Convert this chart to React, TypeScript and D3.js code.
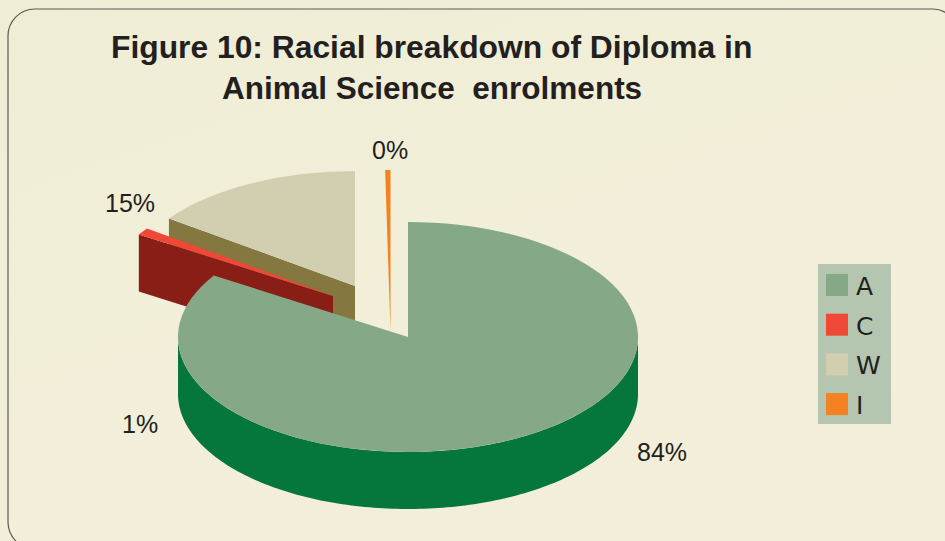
import React from 'react';
import * as d3 from 'd3';

const categories = ['A', 'C', 'W', 'I'];
const shares = [84, 1, 15, 0.37]; // I is labelled 0% but drawn as a sliver
const labels = ['84%', '1%', '15%', '0%'];
const titleLines = ['Figure 10: Racial breakdown of Diploma in', 'Animal Science  enrolments'];

const topColors = ['#85a886', '#ef4836', '#d2cfb1', '#f58220'];
const sideColors = ['#05773c', '#891e16', '#84773f', '#f58220'];

// slice centres after the explode
const centers: [number, number][] = [[408, 337], [333, 296], [355, 286], [390.5, 285]];
const labelPos: [number, number][] = [[637, 461], [122, 433], [105, 212], [372, 159]];

const width = 945;
const height = 541;
const rx = 230;
const ry = 115;
const depth = 57;

// d3.pie would squeeze the shares into one turn, the sliver has to overlap instead
const angle = d3.scaleLinear().domain([0, 100]).range([0, 2 * Math.PI]);
const ends = Array.from(d3.cumsum(shares));
const slices = shares.map((s, i) => ({ startAngle: angle(ends[i] - s), endAngle: angle(ends[i]) }));

const point = (c: [number, number], a: number, dy = 0): [number, number] => [
  c[0] + rx * Math.sin(a),
  c[1] - ry * Math.cos(a) + dy,
];

const line = d3.line();
const topArc = d3.arc<any>().innerRadius(0).outerRadius(rx);

// front wall of the big slice: lower half of the rim pushed down by depth
const rimAngles = d3.range(Math.PI / 2, (3 * Math.PI) / 2 + 0.01, 0.02);
const rimPath =
  line([
    ...rimAngles.map(a => point(centers[0], a)),
    ...rimAngles.slice().reverse().map(a => point(centers[0], a, depth)),
  ]) + 'Z';

// cut wall of an exploded slice, the edge running from the rim to the apex
const wallPath = (i: number, a: number) => {
  const c = centers[i];
  return line([point(c, a), c, [c[0], c[1] + depth], point(c, a, depth)]) + 'Z';
};

// the sliver sits just left of 12 o'clock, its wall narrows down to the apex
const sliverWidth = slices[3].endAngle - slices[3].startAngle;
const sliverAngles = d3.range(-sliverWidth, 0.0001, sliverWidth / 6);
const sliverPath =
  line([...sliverAngles.map(a => point(centers[3], a)), [centers[3][0], centers[3][1] + 47]]) + 'Z';

export default function App() {
  return (
    <svg
      width={width}
      height={height}
      style={{ position: 'fixed', left: 0, top: 0, display: 'block' }}
      fontFamily="'Liberation Sans', Arial, sans-serif"
    >
      <defs>
        <linearGradient id="bg" x1="0" y1="0" x2="0.6" y2="1">
          <stop offset="0" stopColor="#efedd4" />
          <stop offset="0.5" stopColor="#f2efd9" />
          <stop offset="1" stopColor="#f3eeda" />
        </linearGradient>
      </defs>
      <rect width={width} height={height} fill="url(#bg)" />
      <rect x={8} y={9} width={951} height={540} rx={27} ry={27} fill="none" stroke="#5a5a55" strokeWidth={1.2} />

      {titleLines.map((t, i) => (
        <text
          key={t}
          x={i === 0 ? 111 : 222}
          y={i === 0 ? 58 : 99}
          fontSize={i === 0 ? 31.8 : 31.5}
          fontWeight="bold"
          fill="#231f20"
          xmlSpace="preserve"
        >
          {t}
        </text>
      ))}

      {/* back slices first, the big slice covers them */}
      <path d={sliverPath} fill={topColors[3]} />

      <path d={wallPath(2, slices[2].startAngle)} fill={sideColors[2]} />
      <g transform={`translate(${centers[2][0]},${centers[2][1]}) scale(1,${ry / rx})`}>
        <path d={topArc(slices[2]) as string} fill={topColors[2]} />
      </g>

      <path d={wallPath(1, slices[1].startAngle)} fill={sideColors[1]} />
      <g transform={`translate(${centers[1][0]},${centers[1][1]}) scale(1,${ry / rx})`}>
        <path d={topArc(slices[1]) as string} fill={topColors[1]} />
      </g>

      <path d={rimPath} fill={sideColors[0]} />
      <g transform={`translate(${centers[0][0]},${centers[0][1]}) scale(1,${ry / rx})`}>
        <path d={topArc(slices[0]) as string} fill={topColors[0]} />
      </g>

      {labels.map((l, i) => (
        <text key={l} x={labelPos[i][0]} y={labelPos[i][1]} fontSize={25} fill="#231f20">
          {l}
        </text>
      ))}

      <rect x={818} y={264} width={73} height={160} fill="#b4c6b0" />
      {categories.map((c, i) => (
        <g key={c} transform={`translate(826,${274 + i * 39.7})`}>
          <rect width={22} height={22} fill={topColors[i]} />
          <text x={30} y={21} fontSize={25} fontFamily="'DejaVu Sans', sans-serif" fill="#231f20">
            {c}
          </text>
        </g>
      ))}
    </svg>
  );
}
